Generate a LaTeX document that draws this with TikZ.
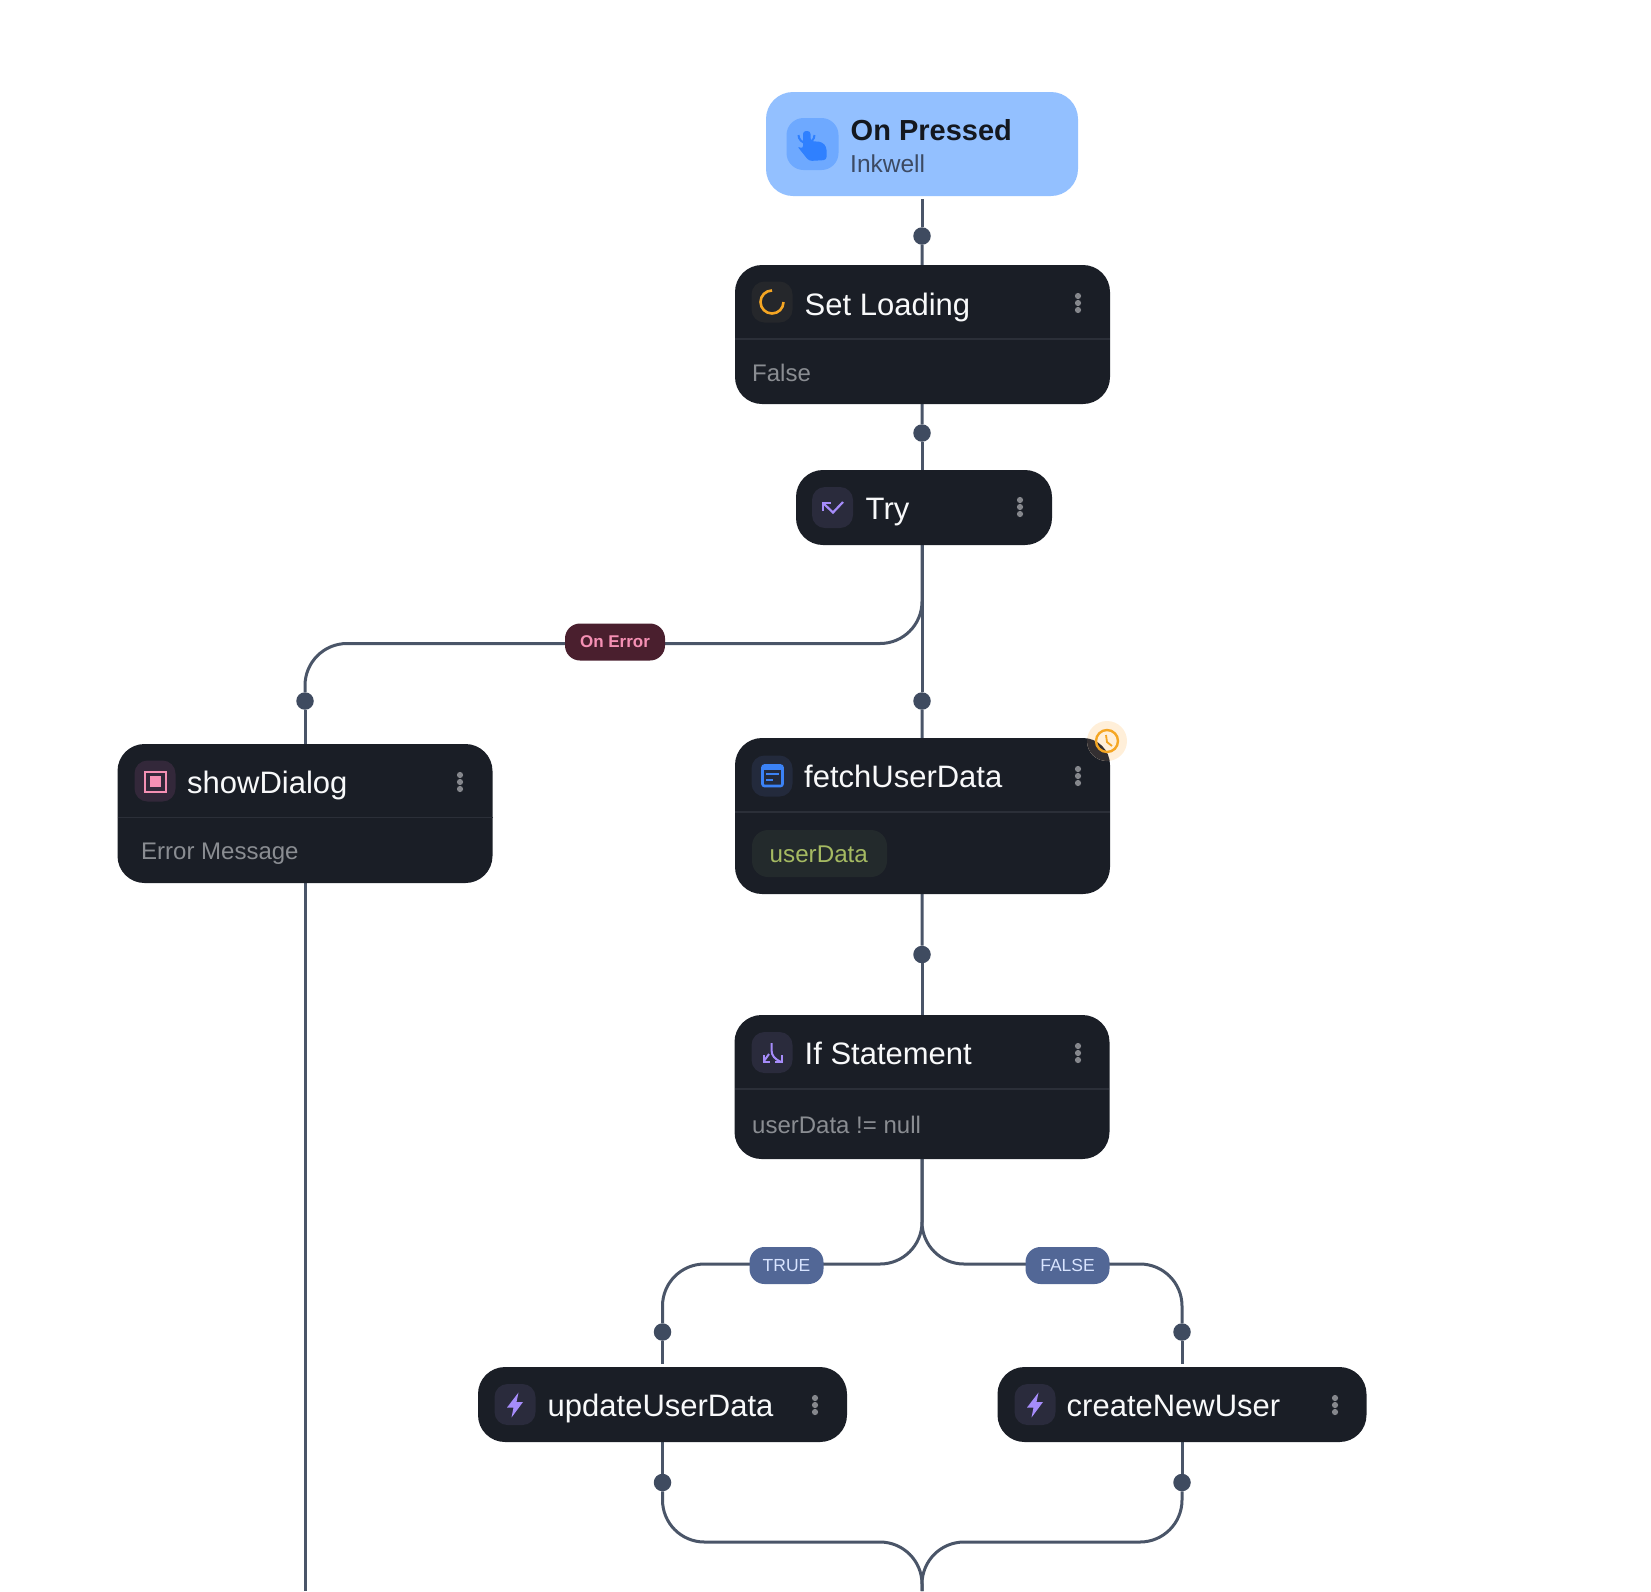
\documentclass[tikz,border=0pt]{standalone}
\usepackage{fontspec}
\setmainfont{Liberation Sans}
\usetikzlibrary{backgrounds}
\definecolor{cardbg}{HTML}{1A1E26}
\definecolor{cardline}{HTML}{2B2F38}
\definecolor{wirecol}{HTML}{4A5568}
\definecolor{dotcol}{HTML}{3F4B60}
\definecolor{pressbg}{HTML}{93C0FF}
\definecolor{presstile}{HTML}{6EA9FF}
\definecolor{pressicon}{HTML}{2F80FF}
\definecolor{presstitle}{HTML}{14181F}
\definecolor{presssub}{HTML}{3C4A63}
\definecolor{titlecol}{HTML}{F8F9FA}
\definecolor{subcol}{HTML}{8A8D92}
\definecolor{kebab}{HTML}{85878C}
\definecolor{purpletile}{HTML}{2A2B3C}
\definecolor{purple}{HTML}{A68CFA}
\definecolor{bluetile}{HTML}{232A3C}
\definecolor{blueicon}{HTML}{3B82F6}
\definecolor{pinktile}{HTML}{33283A}
\definecolor{pink}{HTML}{F590B4}
\definecolor{errbg}{HTML}{4A1F2E}
\definecolor{branchbg}{HTML}{526796}
\definecolor{branchtxt}{HTML}{D8E4FF}
\definecolor{amber}{HTML}{F5A623}
\definecolor{ambertile}{HTML}{25272B}
\definecolor{halo}{HTML}{FFEFD9}
\definecolor{halodark}{HTML}{332F31}
\definecolor{varbg}{HTML}{232A2C}
\definecolor{vartxt}{HTML}{A5BA62}
\tikzset{
  card/.style={fill=cardbg, rounded corners=27pt, inner sep=0pt, minimum width=375pt},
  tile/.style={rounded corners=13pt, inner sep=0pt, minimum size=41pt},
  ttl/.style={anchor=base west, inner sep=0pt, text=titlecol, font=\fontsize{31}{36}\selectfont},
  subtxt/.style={anchor=base west, inner sep=0pt, text=subcol, font=\fontsize{24}{28}\selectfont},
  tag/.style={rounded corners=15pt, inner sep=0pt, minimum height=37pt, font=\fontsize{17.5}{20}\selectfont},
  branchtag/.style={tag, fill=branchbg, text=branchtxt},
  wire/.style={draw=wirecol, line width=3pt},
  turn/.style={wire, rounded corners=42pt},
  joint/.style={circle, fill=dotcol, inner sep=0pt, minimum size=17.5pt},
  rule/.style={draw=cardline, line width=1.5pt}
}
\newcommand{\menudots}[2]{\foreach \k in {-7,0,7} \fill[kebab] (#1,#2+\k) circle (3.1);}
\newcommand{\bolt}[2]{\fill[purple, shift={(#1,#2)}] (3.5,-12.5) -- (-8,2.5) -- (-1.5,2.5) -- (-3.5,12.5) -- (8,-3) -- (1.5,-3) -- cycle;}
\begin{document}
\begin{tikzpicture}[x=1pt,y=-1pt]
  \useasboundingbox (0,0) rectangle (1651,1591);

  \node[fill=pressbg, rounded corners=27pt, inner sep=0pt, minimum width=312pt, minimum height=104pt] (press) at (922,144) {};
  \node[tile, fill=presstile, minimum size=52pt, rounded corners=17pt] (presstl) at (812.5,144) {};
  \node[anchor=base west, inner sep=0pt, text=presstitle, font=\fontsize{29}{34}\selectfont\bfseries] (presstxt) at (850.5,140) {On Pressed};
  \node[anchor=base west, inner sep=0pt, text=presssub, font=\fontsize{24.5}{28}\selectfont] (presssb) at (850,172) {Inkwell};
  \draw[pressicon, line width=2pt] (798.5,135) arc[start angle=-180, end angle=-360, radius=8];
  \fill[pressicon, rounded corners=3pt] (803,131) -- (810.5,131) -- (810.5,141) -- (822,142) -- (826.5,147) -- (826.5,160) -- (809,161) -- (797,146) -- (803,149) -- cycle;

  \node[card, minimum height=139pt] (setload) at (922.5,334.5) {};
  \draw[rule] (735,339) -- (1110,339);
  \node[tile, fill=ambertile] (setloadtl) at (772,302) {};
  \node[ttl] (setloadtxt) at (804.5,315) {Set Loading};
  \node[subtxt] (setloadsb) at (752,381) {False};
  \draw[amber, line width=2.6pt] (772,290.5) arc[start angle=-90, end angle=-360, radius=11.5];
  \menudots{1078}{303}

  \node[card, minimum width=256pt, minimum height=75pt] (tryblk) at (924,507.5) {};
  \node[tile, fill=purpletile] (trytl) at (832.5,507.5) {};
  \node[ttl] (trytxt) at (865.5,519) {Try};
  \draw[purple, line width=2.2pt] (823,503) -- (833,512.5) -- (843,502);
  \draw[purple, line width=2.2pt] (823,511) -- (823,503) -- (831,503);
  \menudots{1020}{507}

  \node[card, minimum height=156pt] (fetch) at (922.5,816) {};
  \draw[rule] (735,812) -- (1110,812);
  \node[tile, fill=bluetile] (fetchtl) at (772,776) {};
  \node[ttl] (fetchtxt) at (804,787) {fetchUserData};
  \node[fill=varbg, rounded corners=16pt, inner sep=0pt, minimum width=135pt, minimum height=47pt] (varpill) at (819.5,853.5) {};
  \node[anchor=base west, inner sep=0pt, text=vartxt, font=\fontsize{24.2}{28}\selectfont] (vartxt) at (769.5,862) {userData};
  \draw[blueicon, line width=2.6pt, rounded corners=2pt] (762.5,765.5) rectangle (782.5,786);
  \fill[blueicon] (762,765) rectangle (783,770);
  \draw[blueicon, line width=2.2pt] (766,774) -- (779,774) (766,780) -- (773,780);
  \menudots{1078}{776}
  \fill[halo] (1107,741) circle (20);
  \begin{scope}
    \clip[rounded corners=27pt] (735,738) rectangle (1110,894);
    \fill[halodark] (1107,741) circle (20);
  \end{scope}
  \draw[amber, line width=2.4pt] (1107,741) circle (11);
  \draw[amber, line width=1.8pt] (1106,735) -- (1107,742) -- (1112,746);

  \node[card, minimum height=144pt] (ifst) at (922,1087) {};
  \draw[rule] (735,1089) -- (1109,1089);
  \node[tile, fill=purpletile] (ifsttl) at (772,1052.5) {};
  \node[ttl] (ifsttxt) at (804.5,1064) {If Statement};
  \node[subtxt] (ifstsb) at (752,1133) {userData != null};
  \draw[purple, line width=2pt] (771.5,1043) -- (771.5,1050) .. controls (771.5,1056) and (775,1059) .. (781,1062);
  \draw[purple, line width=2pt] (769,1054) -- (764,1061);
  \draw[purple, line width=2pt] (763.5,1055) -- (763.5,1062) -- (770,1062);
  \draw[purple, line width=2pt] (781.5,1055) -- (781.5,1062) -- (775,1062);
  \menudots{1078}{1053}

  \node[card, minimum height=139pt] (dialog) at (305,813.5) {};
  \draw[rule] (117.5,817.5) -- (492.5,817.5);
  \node[tile, fill=pinktile] (dialogtl) at (155,781) {};
  \node[ttl] (dialogtxt) at (187,793) {showDialog};
  \node[subtxt] (dialogsb) at (141,859) {Error Message};
  \draw[pink, line width=2pt] (145,771.5) rectangle (165.5,791.5);
  \fill[pink] (149.5,776) rectangle (161,787);
  \menudots{460}{782}

  \node[card, minimum width=369pt, minimum height=75pt] (update) at (662.5,1404.5) {};
  \node[tile, fill=purpletile] (updatetl) at (515,1404.5) {};
  \node[ttl] (updatetxt) at (547.5,1416) {updateUserData};
  \bolt{515}{1405}
  \menudots{815}{1405}

  \node[card, minimum width=369pt, minimum height=75pt] (create) at (1182,1404.5) {};
  \node[tile, fill=purpletile] (createtl) at (1035,1404.5) {};
  \node[ttl] (createtxt) at (1066.5,1416) {createNewUser};
  \bolt{1035}{1405}
  \menudots{1335}{1405}

  \node[tag, fill=errbg, text=pink, minimum width=100pt, font=\fontsize{17}{20}\selectfont\bfseries] (errtag) at (615,642) {On Error};
  \node[branchtag, minimum width=74pt] (truetag) at (786.5,1265.5) {TRUE};
  \node[branchtag, minimum width=84pt] (falsetag) at (1067.5,1265.5) {FALSE};

  \node[joint] (pressdot) at (922,236) {};
  \node[joint] (setdot) at (922,433) {};
  \node[joint] (trydot) at (922,701) {};
  \node[joint] (errdot) at (305,701) {};
  \node[joint] (fetchdot) at (922,954.5) {};
  \node[joint] (truedot) at (662.5,1332) {};
  \node[joint] (falsedot) at (1182,1332) {};
  \node[joint] (updot) at (662.5,1482.5) {};
  \node[joint] (credot) at (1182,1482.5) {};

  \coordinate (errturn) at (305,643.5);
  \coordinate (trueturn) at (662.5,1264);
  \coordinate (falseturn) at (1182,1264);
  \coordinate (mergebar) at (922,1542);
  \coordinate (mergeend) at (922,1591);
  \coordinate (dialogend) at (305,1591);

  \begin{scope}[on background layer]
    \draw[wire, shorten <=3pt] (press) -- (pressdot);
    \draw[wire] (pressdot) -- (setload);
    \draw[wire] (setload) -- (setdot);
    \draw[wire] (setdot) -- (setdot |- tryblk.north);
    \draw[wire] (trydot |- tryblk.south) -- (trydot);
    \draw[wire] (trydot) -- (fetch);
    \draw[turn] (trydot |- tryblk.south) |- (errturn) -- (errdot);
    \draw[wire] (errdot) -- (dialog);
    \draw[wire] (dialog) -- (dialogend);
    \draw[wire] (fetch) -- (fetchdot);
    \draw[wire] (fetchdot) -- (ifst);
    \draw[turn] (ifst.south) |- (trueturn) -- (truedot);
    \draw[turn] (ifst.south) |- (falseturn) -- (falsedot);
    \draw[wire, shorten >=3pt] (truedot) -- (update);
    \draw[wire, shorten >=3pt] (falsedot) -- (create);
    \draw[wire] (update) -- (updot);
    \draw[wire] (create) -- (credot);
    \draw[turn] (updot) |- (mergebar) -- (mergeend);
    \draw[turn] (credot) |- (mergebar) -- (mergeend);
  \end{scope}
\end{tikzpicture}
\end{document}
